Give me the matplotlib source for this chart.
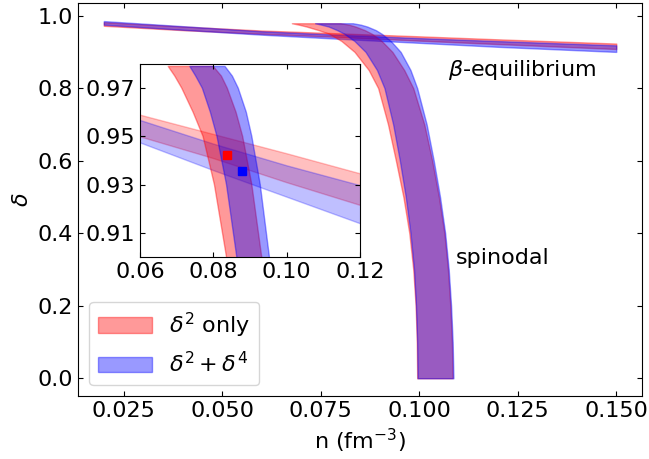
import numpy as np
import matplotlib
matplotlib.use('Agg')
import matplotlib.pyplot as plt
from matplotlib.patches import Patch

plt.rcParams['font.size'] = 16

# beta-equilibrium bands, delta(n)
n_beta = [0.02, 0.04, 0.06, 0.08, 0.10, 0.12, 0.15]
beta_d2_lo = [0.972, 0.960, 0.950, 0.941, 0.931, 0.9216, 0.908]
beta_d2_hi = [0.982, 0.970, 0.959, 0.951, 0.943, 0.9347, 0.923]
beta_d4_lo = [0.975, 0.961, 0.9475, 0.936, 0.925, 0.914, 0.900]
beta_d4_hi = [0.985, 0.971, 0.9568, 0.947, 0.938, 0.9298, 0.918]

# spinodal bands, n(delta)
delta_sp = [0.0, 0.1, 0.2, 0.3, 0.4, 0.5, 0.6, 0.7, 0.8, 0.85, 0.9, 0.93, 0.95, 0.96, 0.97, 0.975, 0.979]
sp_d2_lo = [0.0995, 0.0994, 0.0991, 0.0985, 0.0975, 0.0960, 0.0941, 0.0921, 0.0896, 0.0872, 0.0836,
            0.0803, 0.0772, 0.0745, 0.0714, 0.0695, 0.0677]
sp_d2_hi = [0.1085, 0.1083, 0.1079, 0.1073, 0.1064, 0.1050, 0.1033, 0.1013, 0.0985, 0.0962, 0.0932,
            0.0905, 0.0880, 0.0862, 0.0838, 0.0822, 0.0800]
sp_d4_lo = [0.0996, 0.0995, 0.0992, 0.0987, 0.0978, 0.0966, 0.0951, 0.0934, 0.0912, 0.0893, 0.0864,
            0.0836, 0.0810, 0.0792, 0.0770, 0.0752, 0.0736]
sp_d4_hi = [0.1087, 0.1085, 0.1081, 0.1075, 0.1066, 0.1053, 0.1037, 0.1019, 0.0995, 0.0978, 0.0953,
            0.0928, 0.0905, 0.0890, 0.0868, 0.0852, 0.0832]

# crossing points
cross_d2 = (0.0838, 0.9424)
cross_d4 = (0.0878, 0.9358)

c2 = 'red'
c4 = 'blue'
a = 0.4

fig = plt.figure(figsize=(6.49, 4.59), dpi=100)
ax = fig.add_axes([0.1205, 0.137, 0.8685, 0.856])

ax.fill_between(n_beta, beta_d2_lo, beta_d2_hi, color=c2, alpha=a)
ax.fill_between(n_beta, beta_d4_lo, beta_d4_hi, color=c4, alpha=a)
ax.fill_betweenx(delta_sp, sp_d2_lo, sp_d2_hi, color=c2, alpha=a)
ax.fill_betweenx(delta_sp, sp_d4_lo, sp_d4_hi, color=c4, alpha=a)

ax.text(0.1072, 0.850, r'$\beta$-equilibrium', va='center')
ax.text(0.1092, 0.332, 'spinodal', va='center')

ax.set_xlabel(r'n (fm$^{-3}$)')
ax.set_ylabel(r'$\delta$')
ax.set_xticks([0.025, 0.050, 0.075, 0.100, 0.125, 0.150])
ax.set_yticks([0.0, 0.2, 0.4, 0.6, 0.8, 1.0])
ax.tick_params(direction='in', top=True, right=True)

handles = [Patch(color=c2, alpha=a), Patch(color=c4, alpha=a)]
ax.legend(handles, [r'$\delta^2$ only', r'$\delta^2+\delta^4$'], loc='lower left', handlelength=2.4)

# zoom on the crossing region
axin = fig.add_axes([0.2157, 0.440, 0.339, 0.4205])
axin.fill_between(n_beta, beta_d2_lo, beta_d2_hi, color=c2, alpha=0.25)
axin.fill_between(n_beta, beta_d4_lo, beta_d4_hi, color=c4, alpha=0.25)
axin.fill_betweenx(delta_sp, sp_d2_lo, sp_d2_hi, color=c2, alpha=a)
axin.fill_betweenx(delta_sp, sp_d4_lo, sp_d4_hi, color=c4, alpha=a)
axin.plot(*cross_d2, 's', color='red', ms=6)
axin.plot(*cross_d4, 's', color='blue', ms=6)
axin.set_xlim(0.06, 0.12)
axin.set_ylim(0.90, 0.98)
axin.set_xticks([0.06, 0.08, 0.10, 0.12])
axin.set_yticks([0.91, 0.93, 0.95, 0.97])
axin.tick_params(direction='in', top=True, right=True)

fig.savefig('out.png', dpi=100)
